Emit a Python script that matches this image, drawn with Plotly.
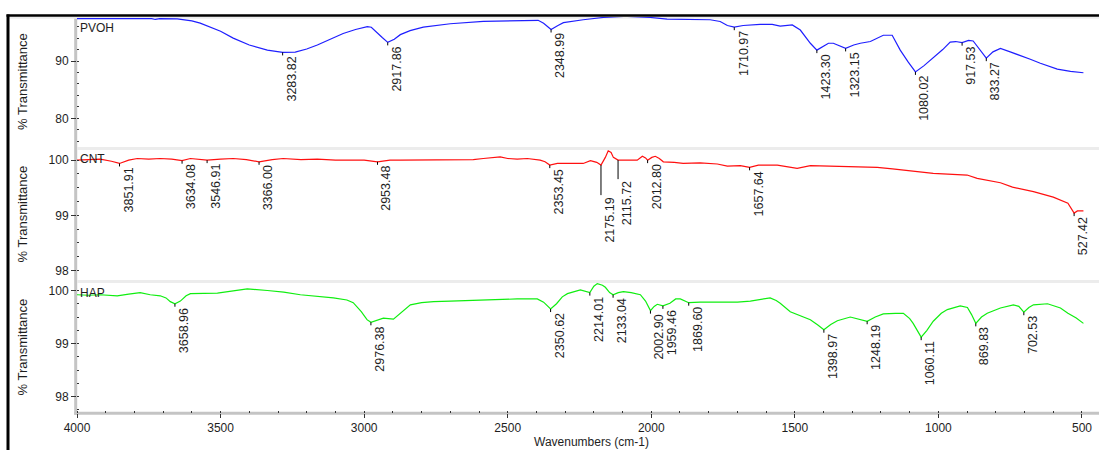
import numpy as np
import plotly.graph_objects as go

# ---------------- spectra (wavenumber in cm-1, % transmittance) ----------------
pvoh_wn = [4000, 3900, 3800, 3740, 3727, 3712, 3651, 3600, 3571, 3500, 3456, 3400, 3337,
           3283.82, 3240, 3200, 3163, 3120, 3073, 3030, 2989, 2975, 2961, 2937, 2917.86,
           2895, 2874, 2840, 2794, 2700, 2585, 2467, 2394, 2375, 2348.99, 2325, 2306, 2237,
           2167, 2090, 2003, 1945, 1795, 1760, 1735, 1710.97, 1680, 1621, 1579, 1551, 1509,
           1481, 1446, 1423.30, 1400, 1383, 1366, 1323.15, 1295, 1272, 1237, 1192, 1161,
           1133, 1105, 1080.02, 1050, 1018, 985, 959, 940, 917.53, 895, 879, 860, 833.27,
           810, 784, 750, 715, 680, 645, 586, 540, 495]
pvoh_t = [97.4, 97.4, 97.4, 97.4, 97.25, 97.4, 97.35, 97.0, 96.6, 95.2, 94.0, 92.8, 91.9,
          91.5, 91.55, 92.1, 92.8, 93.8, 94.8, 95.5, 96.0, 95.9, 95.3, 94.1, 93.25,
          93.8, 94.6, 95.3, 95.9, 96.5, 96.9, 97.1, 97.1, 96.6, 95.5, 96.2, 96.7, 97.2,
          97.6, 97.8, 97.6, 97.3, 97.2, 96.9, 96.2, 95.9, 96.2, 96.4, 96.4, 96.1, 96.3,
          95.4, 93.1, 91.9, 92.6, 93.1, 93.1, 92.2, 92.8, 93.1, 93.4, 94.5, 94.5,
          91.9, 89.8, 88.1, 89.2, 90.5, 92.0, 93.3, 93.4, 93.2, 93.6, 93.5, 92.2, 90.5,
          91.6, 92.2, 91.6, 91.0, 90.3, 89.6, 88.6, 88.2, 87.95]

cnt_wn = [4000, 3960, 3919, 3880, 3851.91, 3820, 3790, 3750, 3710, 3670, 3634.08, 3605,
          3575, 3546.91, 3500, 3456, 3410, 3366.00, 3320, 3282, 3220, 3163, 3100, 3048,
          3000, 2953.48, 2910, 2874, 2800, 2700, 2620, 2585, 2550, 2526, 2500, 2467, 2432,
          2410, 2387, 2370, 2353.45, 2327, 2280, 2237, 2212, 2190, 2175.19, 2160, 2150,
          2140, 2132, 2115.72, 2049, 2031, 2020, 2012.80, 1998, 1986, 1972, 1958, 1920,
          1889, 1830, 1770, 1735, 1690, 1657.64, 1627, 1561, 1492, 1446, 1350, 1213,
          1160, 1108, 1018, 900, 865, 784, 742, 669, 600, 549, 527.42, 516, 495]
cnt_t = [100.0, 100.01, 100.02, 99.98, 99.94, 100.0, 100.03, 100.02, 100.03, 100.02, 99.99,
         100.03, 100.02, 100.0, 100.02, 100.03, 100.01, 99.97, 100.01, 100.03, 100.01,
         100.02, 100.0, 100.0, 100.0, 99.97, 100.0, 100.0, 100.0, 100.01, 100.01, 100.03,
         100.04, 100.06, 100.03, 100.02, 100.03, 100.01, 100.0, 99.97, 99.91, 99.94, 99.94,
         99.94, 99.99, 99.96, 99.91, 100.05, 100.17, 100.14, 100.05, 100.0, 100.0, 100.07,
         100.04, 100.0, 100.05, 100.07, 100.03, 99.97, 99.96, 99.94, 99.95, 99.93, 99.89,
         99.90, 99.87, 99.91, 99.91, 99.85, 99.90, 99.89, 99.87, 99.84, 99.81, 99.76,
         99.73, 99.67, 99.59, 99.51, 99.43, 99.33, 99.22, 99.04, 99.08, 99.08]

hap_wn = [4000, 3960, 3919, 3860, 3820, 3780, 3745, 3710, 3690, 3675, 3658.96, 3640, 3620,
          3605, 3511, 3460, 3407, 3337, 3280, 3222, 3160, 3107, 3060, 3038, 3010, 2990,
          2976.38, 2955, 2933, 2898, 2870, 2839, 2800, 2758, 2700, 2640, 2550, 2467, 2397,
          2375, 2350.62, 2330, 2310, 2292, 2247, 2230, 2214.01, 2200, 2188, 2170, 2160,
          2145, 2133.04, 2115, 2097, 2070, 2038, 2020, 2002.90, 1990, 1979, 1959.46, 1935,
          1915, 1899, 1869.60, 1830, 1770, 1700, 1655, 1620, 1586, 1565, 1551, 1516, 1480,
          1446, 1420, 1398.97, 1375, 1352, 1307, 1248.19, 1220, 1192, 1150, 1122, 1100,
          1088, 1060.11, 1040, 1018, 990, 969, 924, 899, 885, 869.83, 850, 830, 784, 739,
          720, 702.53, 685, 669, 620, 575, 549, 520, 495]
hap_t = [99.92, 99.91, 99.92, 99.90, 99.93, 99.96, 99.92, 99.90, 99.86, 99.79, 99.75, 99.80,
         99.90, 99.94, 99.95, 99.99, 100.03, 100.0, 99.97, 99.92, 99.89, 99.86, 99.82, 99.77,
         99.60, 99.45, 99.40, 99.44, 99.48, 99.46, 99.58, 99.73, 99.77, 99.79, 99.80, 99.81,
         99.83, 99.84, 99.84, 99.78, 99.65, 99.75, 99.88, 99.94, 100.01, 99.99, 99.96,
         100.08, 100.13, 100.10, 100.06, 99.96, 99.92, 99.96, 99.98, 99.96, 99.92, 99.80,
         99.62, 99.70, 99.74, 99.71, 99.76, 99.84, 99.84, 99.77, 99.78, 99.78, 99.78, 99.80,
         99.83, 99.86, 99.81, 99.76, 99.60, 99.52, 99.45, 99.35, 99.26, 99.36, 99.43, 99.50,
         99.42, 99.50, 99.56, 99.57, 99.57, 99.47, 99.38, 99.12, 99.25, 99.42, 99.57, 99.64,
         99.71, 99.68, 99.55, 99.38, 99.50, 99.57, 99.67, 99.73, 99.70, 99.59, 99.68, 99.73,
         99.75, 99.67, 99.57, 99.48, 99.38]

# labelled peak positions (cm-1)
pvoh_peaks = [3283.82, 2917.86, 2348.99, 1710.97, 1423.30, 1323.15, 1080.02, 917.53, 833.27]
cnt_peaks = [3851.91, 3634.08, 3546.91, 3366.00, 2953.48, 2353.45, 2175.19, 2115.72,
             2012.80, 1657.64, 527.42]
hap_peaks = [3658.96, 2976.38, 2350.62, 2214.01, 2133.04, 2002.90, 1959.46, 1869.60,
             1398.97, 1248.19, 1060.11, 869.83, 702.53]

x_tickvals = [4000, 3500, 3000, 2500, 2000, 1500, 1000, 500]
pvoh_yticks = [80, 90]
cnt_yticks = [98, 99, 100]
hap_yticks = [98, 99, 100]

# ---------------- page geometry ----------------
W, H = 1099, 450
ML, MR, MT, MB = 77, 0, 17, 37
PW = W - ML - MR
PH = H - MT - MB
FONT = "Liberation Sans, Arial, sans-serif"
INK = "#1e1e1e"


def pyp(p):
    """pixel row -> paper y"""
    return (H - MB - p) / PH


def pxp(p):
    """pixel column -> paper x"""
    return (p - ML) / PW


panels = [
    dict(name="PVOH", wn=pvoh_wn, t=pvoh_t, peaks=pvoh_peaks, color="#1f1fff",
         ax="y", top=17, bot=147, rng=[75.0, 97.68], ticks=pvoh_yticks, minor=2),
    dict(name="CNT", wn=cnt_wn, t=cnt_t, peaks=cnt_peaks, color="#ff1010",
         ax="y2", top=148, bot=281, rng=[97.81, 100.22], ticks=cnt_yticks, minor=0.25),
    dict(name="HAP", wn=hap_wn, t=hap_t, peaks=hap_peaks, color="#10ee10",
         ax="y3", top=282, bot=413, rng=[97.69, 100.16], ticks=hap_yticks, minor=0.25),
]

# labels pushed further down (pixels) where neighbours would collide
LABEL_DROP = {2175.19: 30, 2115.72: 19}

fig = go.Figure()
annotations = []
shapes = []

for p in panels:
    fig.add_trace(go.Scatter(x=p["wn"], y=p["t"], mode="lines", xaxis="x", yaxis=p["ax"],
                             line=dict(color=p["color"], width=1.2), hoverinfo="skip",
                             showlegend=False))
    axis_key = "yaxis" if p["ax"] == "y" else "yaxis" + p["ax"][1:]
    fig.layout[axis_key] = dict(
        domain=[pyp(p["bot"]), pyp(p["top"])], range=p["rng"], anchor="x",
        tickvals=p["ticks"], ticks="outside", ticklen=5, tickwidth=1, tickcolor="#333",
        tickfont=dict(family=FONT, size=12, color=INK), showgrid=False, zeroline=False,
        showline=False, fixedrange=True,
        minor=dict(dtick=p["minor"], ticks="inside", ticklen=2, tickcolor="#333"),
    )

    # sample name in the upper-left corner of the panel
    annotations.append(dict(text=p["name"], xref="paper", yref="paper", x=pxp(78),
                            y=pyp(p["top"] + 2), xanchor="left", yanchor="top",
                            showarrow=False, font=dict(family=FONT, size=12, color=INK)))
    # y-axis title
    annotations.append(dict(text="% Transmittance", xref="paper", yref="paper", x=pxp(22),
                            y=pyp((p["top"] + p["bot"]) / 2), xanchor="center",
                            yanchor="middle", textangle=-90, showarrow=False,
                            font=dict(family=FONT, size=13, color=INK)))

    # peak labels with their marker lines
    for pk in p["peaks"]:
        yv = float(np.interp(pk, p["wn"][::-1], p["t"][::-1]))
        drop = LABEL_DROP.get(pk, 2)
        annotations.append(dict(text=f"{pk:.2f}", xref="x", yref=p["ax"], x=pk, y=yv,
                                xanchor="center", yanchor="top", xshift=9, yshift=-drop,
                                textangle=-90, showarrow=False,
                                font=dict(family=FONT, size=12.5, color=INK)))
        shapes.append(dict(type="line", xref="x", yref=p["ax"], x0=pk, x1=pk,
                           ysizemode="pixel", yanchor=yv, y0=0, y1=-max(drop, 3),
                           line=dict(color="black", width=1), layer="above"))

# x-axis title, sitting on the bottom edge of the page
annotations.append(dict(text="Wavenumbers (cm-1)", xref="paper", yref="paper", x=pxp(591),
                        y=pyp(451), xanchor="center", yanchor="bottom", showarrow=False,
                        font=dict(family=FONT, size=12, color=INK)))

# gray axis lines and panel separators
GRAY = "#c4c4c4"
LIGHT = "#ececec"
shapes += [
    dict(type="line", xref="paper", yref="paper", x0=pxp(75.7), x1=pxp(75.7),
         y0=pyp(17), y1=pyp(414.8), line=dict(color=GRAY, width=3), layer="below"),
    dict(type="line", xref="paper", yref="paper", x0=pxp(74.2), x1=pxp(W + 2),
         y0=pyp(413.3), y1=pyp(413.3), line=dict(color=GRAY, width=3), layer="below"),
    dict(type="line", xref="paper", yref="paper", x0=pxp(77), x1=pxp(W + 2),
         y0=pyp(148.5), y1=pyp(148.5), line=dict(color=LIGHT, width=3), layer="below"),
    dict(type="line", xref="paper", yref="paper", x0=pxp(77), x1=pxp(W + 2),
         y0=pyp(281.5), y1=pyp(281.5), line=dict(color=LIGHT, width=3), layer="below"),
    dict(type="line", xref="paper", yref="paper", x0=pxp(9), x1=pxp(W + 2),
         y0=pyp(17.8), y1=pyp(17.8), line=dict(color=LIGHT, width=2), layer="below"),
    # outer window frame
    dict(type="line", xref="paper", yref="paper", x0=pxp(6.5), x1=pxp(W + 2),
         y0=pyp(15.6), y1=pyp(15.6), line=dict(color="black", width=2.5), layer="above"),
    dict(type="line", xref="paper", yref="paper", x0=pxp(8), x1=pxp(8),
         y0=pyp(14.5), y1=pyp(H + 2), line=dict(color="black", width=3), layer="above"),
]

fig.update_layout(
    width=W, height=H,
    margin=dict(l=ML, r=MR, t=MT, b=MB, pad=0),
    paper_bgcolor="white", plot_bgcolor="rgba(0,0,0,0)",
    showlegend=False,
    xaxis=dict(range=[4000, 4000 - PW / 0.28714], anchor="y3", domain=[0, 1],
               tickvals=x_tickvals, ticks="outside", ticklen=4, tickwidth=1,
               tickcolor="#333", tickfont=dict(family=FONT, size=12, color=INK),
               showgrid=False, zeroline=False, showline=False, fixedrange=True,
               minor=dict(dtick=100, ticks="inside", ticklen=2, tickcolor="#333")),
    annotations=annotations,
    shapes=shapes,
)

fig.write_html("out.html", config={"displayModeBar": False})
